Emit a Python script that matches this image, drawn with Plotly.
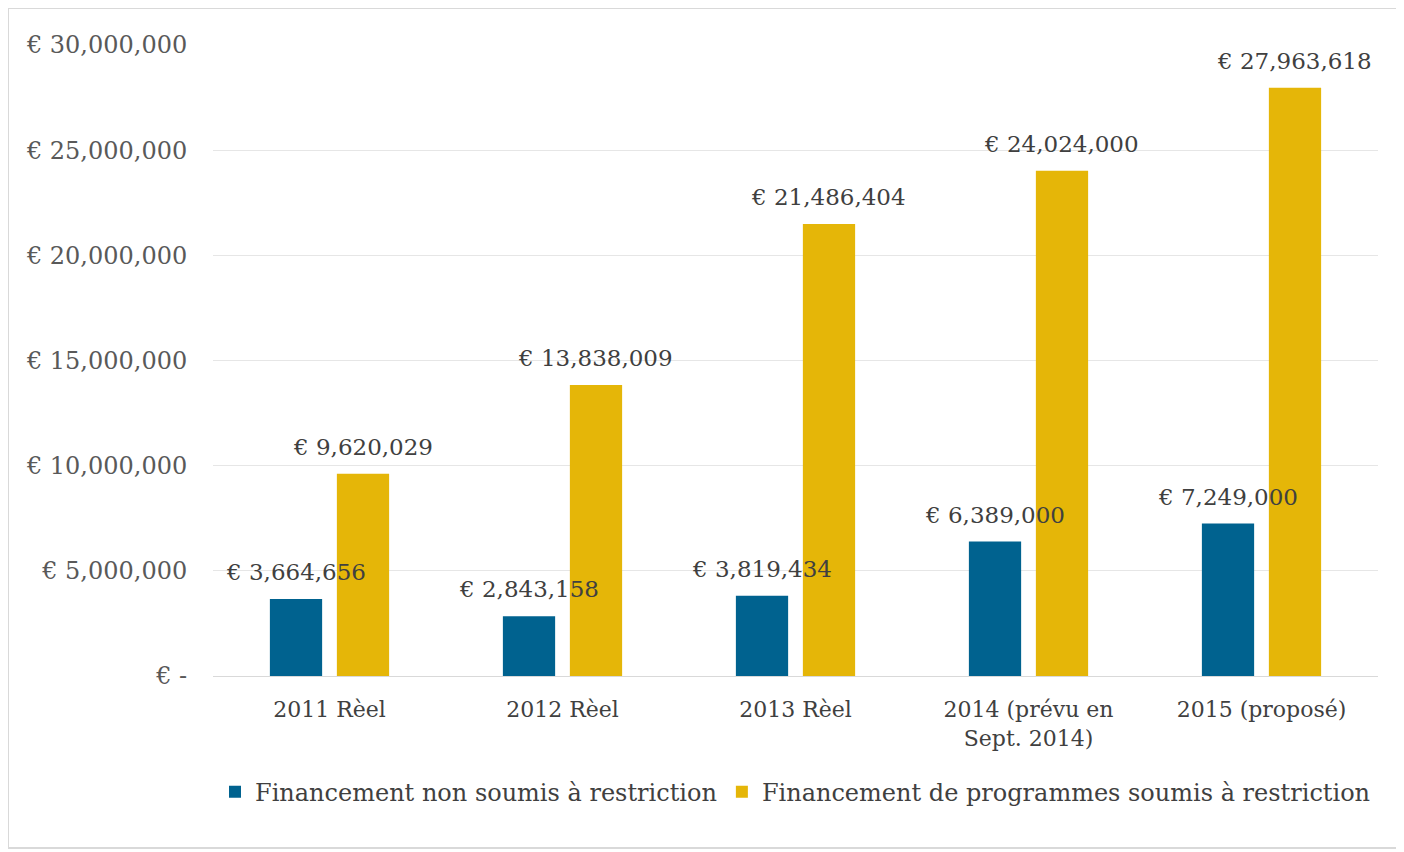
import plotly.graph_objects as go

# categories and values
categories = ["2011 Rèel", "2012 Rèel", "2013 Rèel",
              "2014 (prévu en<br>Sept. 2014)", "2015 (proposé)"]
non_restricted = [3664656, 2843158, 3819434, 6389000, 7249000]
restricted = [9620029, 13838009, 21486404, 24024000, 27963618]

series_names = ["Financement non soumis à restriction",
                "Financement de programmes soumis à restriction"]

tick_vals = [0, 5000000, 10000000, 15000000, 20000000, 25000000, 30000000]
tick_labels = ["€ -", "€ 5,000,000", "€ 10,000,000", "€ 15,000,000",
               "€ 20,000,000", "€ 25,000,000", "€ 30,000,000"]

BLUE = "#00628f"
GOLD = "#e5b608"
FONT = "DejaVu Serif"

# page body has an 8px margin, so the figure is 8px smaller each way
W, H = 1396, 844
M = dict(l=205, r=26, t=37, b=176)
BARGAP, GROUPGAP = 0.425, 0.22

fig = go.Figure()
for name, vals, color in [(series_names[0], non_restricted, BLUE),
                          (series_names[1], restricted, GOLD)]:
    fig.add_trace(go.Bar(
        x=categories, y=vals, name=name,
        marker=dict(color=color, line=dict(width=0)),
    ))

# value labels on top of everything (they overlap the neighbour bars)
pw = W - M["l"] - M["r"]
ph = H - M["t"] - M["b"]
slot = pw / len(categories) * (1 - BARGAP) / 2
for shift, vals in [(-slot / 2, non_restricted), (slot / 2, restricted)]:
    for cat, v in zip(categories, vals):
        fig.add_annotation(
            x=cat, y=v, xref="x", yref="y", text=f"€ {v:,.0f}",
            showarrow=False, xanchor="center", yanchor="middle",
            xshift=shift, yshift=27,
            font=dict(family=FONT, size=23, color="#404040"),
        )

fig.update_layout(
    width=W, height=H,
    margin=dict(**M, autoexpand=False),
    paper_bgcolor="white", plot_bgcolor="white",
    barmode="group", bargap=BARGAP, bargroupgap=GROUPGAP,
    font=dict(family=FONT, color="#404040"),
    showlegend=True,
    legend=dict(orientation="h", x=0.5, xanchor="center",
                y=-0.184, yanchor="middle",
                font=dict(family=FONT, size=24, color="#404040"),
                itemwidth=30, tracegroupgap=0),
)

fig.update_xaxes(
    tickfont=dict(family=FONT, size=22, color="#404040"),
    showgrid=False, showline=True, linecolor="#d9d9d9", linewidth=1,
    ticks="outside", ticklen=14, tickcolor="rgba(0,0,0,0)",
)
fig.update_yaxes(
    range=[0, 30000000], tickvals=tick_vals, ticktext=tick_labels,
    tickfont=dict(family=FONT, size=24, color="#595959"),
    showgrid=True, gridcolor="#e6e6e6", gridwidth=1,
    zeroline=True, zerolinecolor="#d9d9d9", zerolinewidth=1,
    ticks="outside", ticklen=20, tickcolor="rgba(0,0,0,0)",
)

# thin grey frame around the whole chart
fig.add_shape(
    type="rect", xref="paper", yref="paper",
    x0=(0 - M["l"]) / pw, x1=(W - 6 - M["l"]) / pw,
    y0=(H - M["b"] - (H - 4)) / ph, y1=(H - M["b"]) / ph,
    line=dict(color="#d9d9d9", width=2), layer="below",
)

fig.write_html("out.html")
